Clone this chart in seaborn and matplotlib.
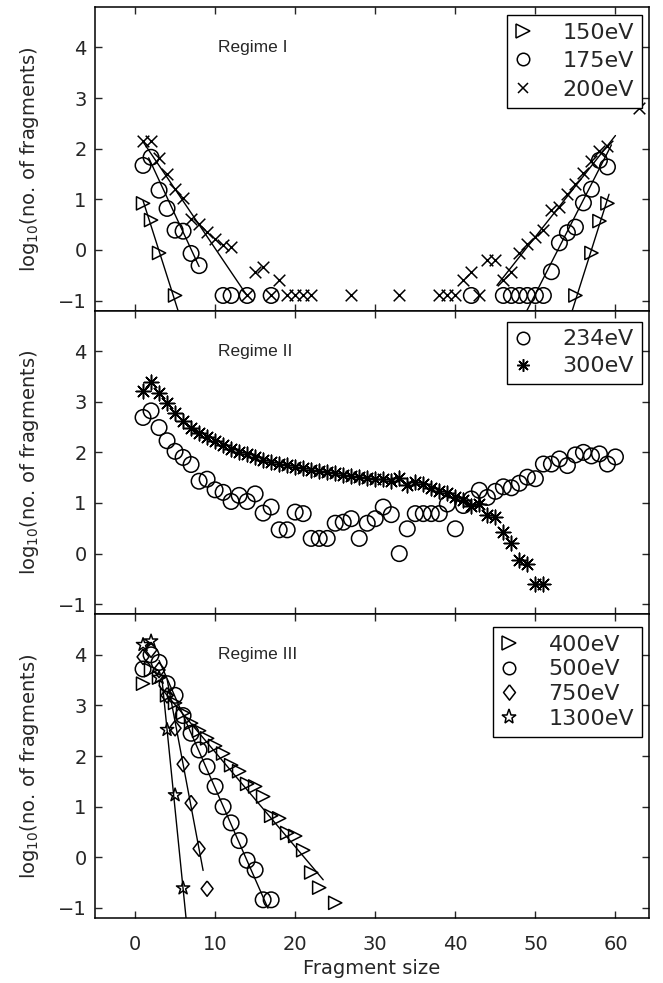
import numpy as np
import matplotlib
matplotlib.use("Agg")
import matplotlib.pyplot as plt
import seaborn as sns
from matplotlib.lines import Line2D

# ========== DATA ==========
# Regime I
r1_150_x = [1, 2, 3, 5, 55, 57, 58, 59]
r1_150_y = [0.92, 0.59, -0.06, -0.90, -0.90, -0.06, 0.57, 0.92]

r1_175_x = [1, 2, 3, 4, 5, 6, 7, 8, 11, 12, 14, 17, 42, 46, 47, 48, 49, 50, 51,
            52, 53, 54, 55, 56, 57, 58, 59]
r1_175_y = [1.67, 1.83, 1.18, 0.82, 0.39, 0.37, -0.07, -0.31, -0.90, -0.90, -0.90, -0.90,
            -0.90, -0.90, -0.90, -0.90, -0.90, -0.90, -0.90,
            -0.43, 0.14, 0.34, 0.45, 0.93, 1.20, 1.77, 1.64]

r1_200_x = [1, 2, 3, 4, 5, 6, 7, 8, 9, 10, 11, 12, 14, 15, 16, 17, 18, 19, 20, 21, 22,
            27, 33, 38, 39, 40, 41, 42, 43, 44, 45, 46, 47, 48, 49, 50, 51, 52, 53, 54,
            55, 56, 57, 58, 59, 63]
r1_200_y = [2.15, 2.15, 1.82, 1.50, 1.21, 1.02, 0.62, 0.52, 0.35, 0.21, 0.10, 0.05,
            -0.90, -0.43, -0.33, -0.90, -0.59, -0.90, -0.90, -0.90, -0.90,
            -0.90, -0.90, -0.90, -0.90, -0.90, -0.60, -0.43, -0.90, -0.20, -0.20,
            -0.60, -0.43, -0.06, 0.12, 0.26, 0.39, 0.79, 0.85, 1.11,
            1.31, 1.52, 1.75, 1.96, 2.06, 2.80]

# exponential fits, log10 N = a + b*s, over s0..s1
r1_fits = [
    (1.47, -0.497, 1.0, 6.0),
    (2.40, -0.341, 1.7, 8.0),
    (2.37, -0.234, 1.0, 14.0),
    (-28.5, 0.50, 54.5, 59.2),
    (-16.37, 0.31, 48.5, 59.5),
    (-9.74, 0.20, 45.2, 60.0),
]

# Regime II
r2_x_234 = list(range(1, 61))
r2_y_234 = [2.69, 2.82, 2.49, 2.23, 2.02, 1.90, 1.76, 1.43, 1.47, 1.26,
            1.21, 1.03, 1.15, 1.03, 1.18, 0.80, 0.92, 0.47, 0.47, 0.82,
            0.79, 0.30, 0.30, 0.30, 0.60, 0.62, 0.69, 0.30, 0.60, 0.69,
            0.92, 0.77, 0.00, 0.49, 0.79, 0.79, 0.79, 0.79, 0.98, 0.49,
            0.95, 1.08, 1.25, 1.11, 1.23, 1.32, 1.30, 1.39, 1.51, 1.48,
            1.77, 1.77, 1.87, 1.74, 1.95, 2.00, 1.93, 1.97, 1.77, 1.91]

r2_x_300 = list(range(1, 52))
r2_y_300 = [3.21, 3.40, 3.18, 2.98, 2.77, 2.62, 2.49, 2.39, 2.31, 2.23,
            2.14, 2.07, 2.01, 1.96, 1.91, 1.85, 1.81, 1.78, 1.76, 1.72,
            1.69, 1.66, 1.63, 1.62, 1.59, 1.56, 1.53, 1.51, 1.49, 1.48,
            1.47, 1.44, 1.50, 1.36, 1.41, 1.38, 1.30, 1.24, 1.20, 1.11,
            1.05, 0.95, 0.98, 0.76, 0.72, 0.43, 0.21, -0.12, -0.20, -0.60,
            -0.60]

# Regime III
r3_x_400 = list(range(1, 24)) + [25]
r3_y_400 = [3.43, 3.70, 3.55, 3.20, 3.05, 2.85, 2.65, 2.50, 2.35, 2.20,
            2.05, 1.82, 1.70, 1.45, 1.40, 1.20, 0.82, 0.77, 0.48, 0.42,
            0.14, -0.30, -0.60, -0.90]

r3_x_500 = list(range(1, 18))
r3_y_500 = [3.72, 4.00, 3.85, 3.43, 3.20, 2.80, 2.45, 2.12, 1.79, 1.40,
            1.00, 0.68, 0.33, -0.06, -0.25, -0.84, -0.84]

r3_x_750 = list(range(1, 10))
r3_y_750 = [3.96, 4.10, 3.70, 3.20, 2.55, 1.84, 1.07, 0.17, -0.62]

r3_x_1300 = list(range(1, 7))
r3_y_1300 = [4.20, 4.27, 3.55, 2.52, 1.23, -0.61]

r3_fits = [
    (3.95, -0.187, 3.0, 23.5),
    (4.97, -0.36, 3.0, 16.6),
    (6.88, -0.84, 4.0, 8.5),
    (8.80, -1.57, 3.4, 6.6),
]

# ========== STYLE ==========
sns.set_style("ticks")
plt.rcParams["font.family"] = ["DejaVu Sans"]
plt.rcParams["mathtext.default"] = "regular"

diamond = [(0, 1), (0.78, 0), (0, -1), (-0.78, 0), (0, 1)]
asterisk = (8, 2, 0)

def pts(ax, x, y, marker, s, filled_marker=True):
    if filled_marker:
        sns.scatterplot(x=x, y=y, marker=marker, s=s, facecolors="none",
                        edgecolors="black", linewidth=1.1, ax=ax, legend=False, zorder=3)
    else:
        sns.scatterplot(x=x, y=y, marker=marker, s=s, color="black",
                        linewidth=1.1, ax=ax, legend=False, zorder=3)

def fit_lines(ax, fits):
    for a, b, s0, s1 in fits:
        xs = np.array([s0, s1])
        ax.plot(xs, a + b * xs, color="black", lw=1.0, zorder=2)

def handle(marker, ms):
    return Line2D([], [], marker=marker, linestyle="", markersize=ms,
                  markerfacecolor="none", markeredgecolor="black", markeredgewidth=1.1)

# ========== PLOT ==========
fig, axes = plt.subplots(3, 1, figsize=(6.63, 9.83), dpi=100, sharex=True)
fig.subplots_adjust(left=0.1433, right=0.979, bottom=0.0661, top=0.9929, hspace=0)

ax = axes[0]
pts(ax, r1_150_x, r1_150_y, ">", 90)
pts(ax, r1_175_x, r1_175_y, "o", 125)
pts(ax, r1_200_x, r1_200_y, "x", 70, filled_marker=False)
fit_lines(ax, r1_fits)
ax.text(10.4, 4.0, "Regime I", fontsize=12.5, va="center", family="Liberation Sans")
legend_1 = ([handle(">", 10), handle("o", 9), handle("x", 7)],
            ["150eV", "175eV", "200eV"], 0.385, 0.974)

ax = axes[1]
pts(ax, r2_x_234, r2_y_234, "o", 125)
pts(ax, r2_x_300, r2_y_300, asterisk, 110, filled_marker=False)
ax.text(10.4, 4.0, "Regime II", fontsize=12.5, va="center", family="Liberation Sans")
legend_2 = ([handle("o", 9), handle(asterisk, 9)], ["234eV", "300eV"], 0.32, 0.964)

ax = axes[2]
pts(ax, r3_x_400, r3_y_400, ">", 90)
pts(ax, r3_x_500, r3_y_500, "o", 125)
pts(ax, r3_x_750, r3_y_750, diamond, 121)
pts(ax, r3_x_1300, r3_y_1300, "*", 100)
fit_lines(ax, r3_fits)
ax.text(10.4, 4.0, "Regime III", fontsize=12.5, va="center", family="Liberation Sans")
legend_3 = ([handle(">", 10), handle("o", 9), handle(diamond, 11), handle("*", 11)],
            ["400eV", "500eV", "750eV", "1300eV"], 0.215, 0.959)

for ax, (h, labels, spacing, top) in zip(axes, [legend_1, legend_2, legend_3]):
    ax.set_xlim(-5, 64.2)
    ax.set_ylim(-1.2, 4.8)
    ax.set_xticks(range(0, 61, 10))
    ax.set_yticks(range(-1, 5))
    ax.tick_params(direction="in", top=True, right=True, length=5, width=1,
                   labelsize=14)
    ax.tick_params(axis="y", pad=6)
    ax.tick_params(axis="x", pad=12)
    for sp in ax.spines.values():
        sp.set_linewidth(1.1)
        sp.set_color("black")
    ax.set_ylabel(r"log$_{10}$(no. of fragments)", fontsize=14, labelpad=12)
    ax.legend(h, labels, loc="upper right", bbox_to_anchor=(0.987, top),
              fontsize=16, frameon=True, fancybox=False, edgecolor="black",
              framealpha=1, borderaxespad=0, handlelength=0.74, handletextpad=1.39,
              borderpad=0.35, labelspacing=spacing)
    ax.get_legend().get_frame().set_linewidth(1.0)

for ax in axes[:2]:
    ax.tick_params(labelbottom=False)
axes[2].set_xlabel("Fragment size", fontsize=14, labelpad=4)

fig.savefig("out.png", dpi=100)
plt.close(fig)
